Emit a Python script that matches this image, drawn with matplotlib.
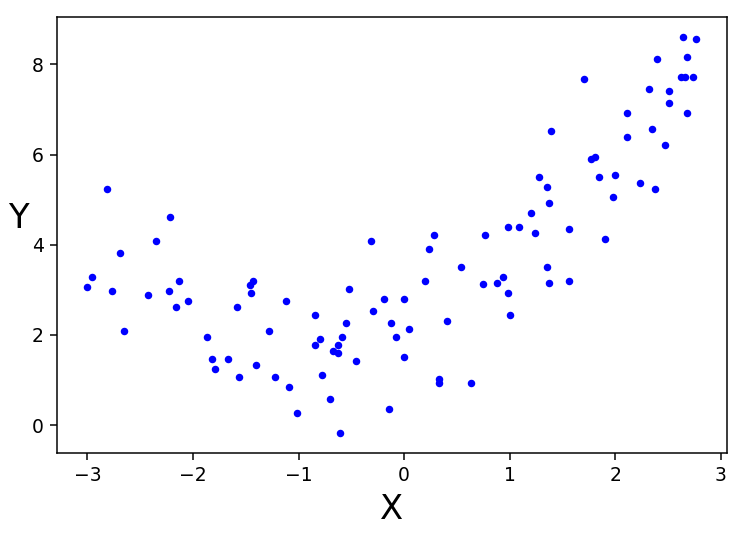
import numpy as np
import matplotlib
matplotlib.use("Agg")
import matplotlib.pyplot as plt

# valori
X = np.array([
    -2.81, -2.22, -2.35, -2.69, -2.96, -3.00, -2.77, -2.43, -2.65, -2.23,
    -2.13, -2.16, -2.05, -1.87, -1.82, -1.79, -1.67, -1.56, -1.58, -1.46,
    -1.43, -1.45, -1.40, -1.28, -1.22, -1.12, -1.09, -1.01,
    -0.31, 0.28, 0.24, 0.54, 0.20, -0.52, -0.19, 0.00, -0.29, -0.84,
    -0.55, -0.12, 0.05, 0.41, -0.08, -0.80, -0.84, -0.59, -0.63, -0.67,
    -0.63, -0.46, 0.00, -0.78, 0.33, 0.33, 0.63, -0.70, -0.14, -0.61,
    0.77, 0.75, 0.88, 0.94, 0.98, 1.00, 1.35, 1.37, 1.56, 0.98,
    1.09, 1.24, 1.56, 1.90, 1.20, 1.37, 1.35, 1.28, 1.85, 2.00,
    1.98, 2.24, 2.38, 1.77, 1.81, 1.39, 2.35, 2.11, 2.47, 2.11,
    2.68, 2.51, 2.51, 2.32, 1.70, 2.62, 2.66, 2.74, 2.40, 2.68,
    2.64, 2.77,
])
y = np.array([
    5.23, 4.61, 4.08, 3.82, 3.29, 3.06, 2.97, 2.89, 2.09, 2.97,
    3.20, 2.61, 2.75, 1.95, 1.47, 1.24, 1.47, 1.07, 2.61, 3.11,
    3.20, 2.93, 1.33, 2.09, 1.07, 2.75, 0.84, 0.27,
    4.08, 4.21, 3.90, 3.51, 3.20, 3.01, 2.79, 2.79, 2.53, 2.43,
    2.26, 2.26, 2.13, 2.31, 1.95, 1.91, 1.78, 1.95, 1.78, 1.64,
    1.60, 1.42, 1.51, 1.11, 1.02, 0.93, 0.93, 0.57, 0.35, -0.18,
    4.22, 3.12, 3.15, 3.29, 2.93, 2.44, 3.51, 3.15, 3.20, 4.40,
    4.40, 4.26, 4.35, 4.13, 4.71, 4.93, 5.28, 5.50, 5.50, 5.55,
    5.06, 5.37, 5.24, 5.90, 5.95, 6.53, 6.57, 6.39, 6.22, 6.93,
    6.93, 7.15, 7.41, 7.45, 7.67, 7.72, 7.72, 7.72, 8.12, 8.17,
    8.61, 8.56,
])

fig = plt.figure(figsize=(744 / 135, 536 / 135), dpi=135)
ax = fig.add_axes([0.0766, 0.155, 0.977 - 0.0766, 0.968 - 0.155])

ax.plot(X, y, "b.")
ax.set_xlabel("X", fontsize=18)
ax.set_ylabel("Y", fontsize=18, rotation=0, labelpad=7)
ax.tick_params(labelsize=10)

plt.savefig("out.png", dpi=135)
